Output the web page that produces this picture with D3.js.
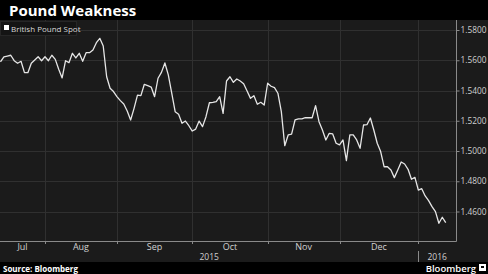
<!DOCTYPE html>
<html>
<head>
<meta charset="utf-8">
<script src="https://cdn.jsdelivr.net/npm/d3@7"></script>
<style>
  html, body { margin: 0; padding: 0; background: #000; }
  svg { display: block; }
  text { font-family: "Open Sans", "DejaVu Sans", sans-serif; }
</style>
</head>
<body>
<svg id="chart" width="488" height="274"></svg>
<script>
// ---- data ----
const title = "Pound Weakness";
const seriesName = "British Pound Spot";
const sourceText = "Source: Bloomberg";
const startDate = "2015-07-15";
const endDate = "2016-01-13";
const monthLabels = ["Jul", "Aug", "Sep", "Oct", "Nov", "Dec"];
const yearLabels = ["2015", "2016"];
const yTicks = [1.46, 1.48, 1.50, 1.52, 1.54, 1.56, 1.58];
// GBP spot, one value per business day from startDate to endDate
const gbpValues = [
  1.5590, 1.5623, 1.5628, 1.5633, 1.5597, 1.5580, 1.5593, 1.5518, 1.5518, 1.5580,
  1.5602, 1.5623, 1.5597, 1.5623, 1.5597, 1.5633, 1.5606, 1.5540, 1.5483, 1.5597,
  1.5584, 1.5646, 1.5615, 1.5646, 1.5593, 1.5650, 1.5650, 1.5668, 1.5716, 1.5745,
  1.5694, 1.5491, 1.5415, 1.5393, 1.5360, 1.5333, 1.5311, 1.5264, 1.5205, 1.5282,
  1.5370, 1.5366, 1.5441, 1.5432, 1.5423, 1.5359, 1.5481, 1.5520, 1.5582, 1.5503,
  1.5382, 1.5260, 1.5243, 1.5183, 1.5198, 1.5167, 1.5132, 1.5145, 1.5198, 1.5161,
  1.5227, 1.5319, 1.5322, 1.5326, 1.5359, 1.5249, 1.5463, 1.5491, 1.5454, 1.5476,
  1.5463, 1.5445, 1.5397, 1.5348, 1.5366, 1.5309, 1.5322, 1.5304, 1.5448, 1.5428,
  1.5419, 1.5382, 1.5260, 1.5035, 1.5106, 1.5111, 1.5205, 1.5212, 1.5212, 1.5220,
  1.5220, 1.5220, 1.5300, 1.5194, 1.5139, 1.5073, 1.5117, 1.5113, 1.5051, 1.5040,
  1.5073, 1.4936, 1.5106, 1.5106, 1.5073, 1.5018, 1.5172, 1.5174, 1.5218, 1.5139,
  1.5051, 1.4996, 1.4896, 1.4896, 1.4875, 1.4824, 1.4875, 1.4927, 1.4914, 1.4879,
  1.4813, 1.4826, 1.4742, 1.4751, 1.4703, 1.4672, 1.4632, 1.4599, 1.4522, 1.4562,
  1.4526
];

// ---- build business-day calendar (x categories) ----
const parse = d3.timeParse("%Y-%m-%d");
const dates = d3.timeDay.range(parse(startDate), d3.timeDay.offset(parse(endDate), 1))
  .filter(d => d.getDay() !== 0 && d.getDay() !== 6);
const data = dates.map((d, i) => ({ date: d, idx: i, value: gbpValues[i] }));

// ---- layout ----
const W = 488, H = 274;
const plotTop = 20, plotBottom = 241, plotLeft = 0, plotRight = 456;
const svg = d3.select("#chart");

const x = d3.scaleLinear().domain([-0.14, 133]).range([plotLeft, plotRight]);
const y = d3.scaleLinear().domain([1.46, 1.58]).range([211.5, 30]);

// backgrounds
svg.append("rect").attr("x", 0).attr("y", 0).attr("width", W).attr("height", H).attr("fill", "#000");
svg.append("rect").attr("x", 0).attr("y", plotTop).attr("width", W).attr("height", 262 - plotTop).attr("fill", "#1b1b1b");

// month boundaries = first business day of each month
const firstIdx = [];
data.forEach((d, i) => {
  if (i > 0 && d.date.getMonth() !== data[i - 1].date.getMonth()) firstIdx.push(i);
});
const boundaries = firstIdx.map(i => x(i));

// horizontal grid
svg.append("g").selectAll("line").data(yTicks).join("line")
  .attr("x1", plotLeft).attr("x2", plotRight)
  .attr("y1", d => Math.round(y(d)) + 0.5).attr("y2", d => Math.round(y(d)) + 0.5)
  .attr("stroke", "#303030").attr("stroke-width", 1);

// vertical grid
svg.append("g").selectAll("line").data(boundaries).join("line")
  .attr("x1", d => Math.round(d) + 0.5).attr("x2", d => Math.round(d) + 0.5)
  .attr("y1", plotTop).attr("y2", plotBottom)
  .attr("stroke", "#303030").attr("stroke-width", 1);

// axes lines
svg.append("line").attr("x1", plotLeft).attr("x2", plotRight + 0.5)
  .attr("y1", plotBottom + 0.5).attr("y2", plotBottom + 0.5)
  .attr("stroke", "#8a8a8a").attr("stroke-width", 1);
svg.append("line").attr("x1", plotRight + 0.5).attr("x2", plotRight + 0.5)
  .attr("y1", plotTop).attr("y2", plotBottom + 0.5)
  .attr("stroke", "#8a8a8a").attr("stroke-width", 1);

// y axis ticks + labels (right side)
const yAxis = d3.axisRight(y).tickValues(yTicks).tickSize(3).tickPadding(1)
  .tickFormat(d3.format(".4f"));
const yg = svg.append("g").attr("transform", `translate(${plotRight + 0.5},0)`).call(yAxis);
yg.select(".domain").remove();
yg.selectAll(".tick line").attr("stroke", "#8a8a8a");
yg.selectAll(".tick text").attr("fill", "#d0d0d0")
  .style("font-size", "8.3px").style("font-family", "'Open Sans', sans-serif");

// x axis small ticks at month boundaries
svg.append("g").selectAll("line").data(boundaries).join("line")
  .attr("x1", d => Math.round(d) + 0.5).attr("x2", d => Math.round(d) + 0.5)
  .attr("y1", plotBottom).attr("y2", plotBottom + 3)
  .attr("stroke", "#8a8a8a");

// month labels centered in month spans
const edges = [plotLeft, ...boundaries];
const monthPos = monthLabels.map((m, i) => (edges[i] + edges[i + 1]) / 2);
svg.append("g").selectAll("text").data(monthLabels).join("text")
  .attr("x", (d, i) => monthPos[i]).attr("y", 250)
  .attr("text-anchor", "middle").attr("fill", "#d0d0d0")
  .style("font-size", "9px").text(d => d);

// year labels
const yearSplit = boundaries[boundaries.length - 1];
svg.append("line").attr("x1", Math.round(yearSplit) + 0.5).attr("x2", Math.round(yearSplit) + 0.5)
  .attr("y1", 251).attr("y2", 262).attr("stroke", "#8a8a8a");
svg.append("text").attr("x", (plotLeft + yearSplit) / 2).attr("y", 259.5)
  .attr("text-anchor", "middle").attr("fill", "#d0d0d0").style("font-size", "8.5px").text(yearLabels[0]);
svg.append("text").attr("x", (yearSplit + plotRight) / 2).attr("y", 259.5)
  .attr("text-anchor", "middle").attr("fill", "#d0d0d0").style("font-size", "8.5px").text(yearLabels[1]);

// line
const line = d3.line().x(d => x(d.idx)).y(d => y(d.value));
svg.append("path").datum(data).attr("d", line)
  .attr("fill", "none").attr("stroke", "#e6e6e6").attr("stroke-width", 1.3)
  .attr("stroke-linejoin", "round");

// legend
svg.append("rect").attr("x", 0.5).attr("y", 21.5).attr("width", 76).attr("height", 14)
  .attr("fill", "#141414").attr("stroke", "#262626");
svg.append("rect").attr("x", 4).attr("y", 25).attr("width", 5).attr("height", 5).attr("fill", "#ffffff");
svg.append("text").attr("x", 11).attr("y", 31.5).attr("fill", "#d8d8d8")
  .style("font-size", "8px").text(seriesName);

// title
svg.append("text").attr("x", 9).attr("y", 16).attr("fill", "#ffffff")
  .style("font-size", "15px").style("font-weight", "700").text(title);

// source
svg.append("text").attr("x", 3).attr("y", 271.5).attr("fill", "#ffffff")
  .style("font-size", "8px").style("font-weight", "700").text(sourceText);
svg.append("text").attr("x", 476).attr("y", 272).attr("text-anchor", "end").attr("fill", "#ffffff")
  .style("font-size", "9.5px").style("font-weight", "600").text("Bloomberg");
svg.append("rect").attr("x", 479).attr("y", 264).attr("width", 7).attr("height", 7).attr("fill", "#ffffff");
svg.append("rect").attr("x", 481).attr("y", 266).attr("width", 3).attr("height", 2).attr("fill", "#000");
</script>
</body>
</html>
